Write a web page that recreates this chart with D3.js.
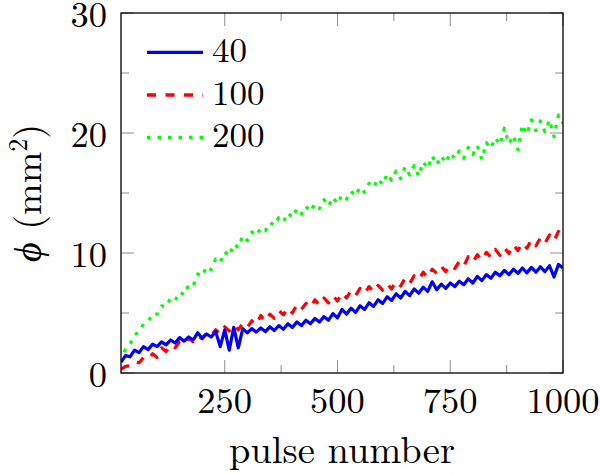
<!DOCTYPE html>
<html>
<head>
<meta charset="utf-8">
<script src="https://cdn.jsdelivr.net/npm/d3@7"></script>
<style>
  html, body { margin: 0; padding: 0; background: #fff; }
  svg { display: block; }
</style>
</head>
<body>
<svg id="chart" width="600" height="475"></svg>
<script>
// ---- data ----
const pulses = [20,30,40,50,60,70,80,90,100,110,120,130,140,150,160,170,180,190,200,210,220,230,240,250,260,270,280,290,300,310,320,330,340,350,360,370,380,390,400,410,420,430,440,450,460,470,480,490,500,510,520,530,540,550,560,570,580,590,600,610,620,630,640,650,660,670,680,690,700,710,720,730,740,750,760,770,780,790,800,810,820,830,840,850,860,870,880,890,900,910,920,930,940,950,960,970,980,990,1000];

const series40 = [0.9,1.45,1.35,1.9,1.7,2.2,1.95,2.4,2.2,2.6,2.35,2.75,2.5,2.95,2.65,3.0,2.75,3.35,2.9,3.25,3.0,3.45,2.2,3.6,1.9,3.8,2.1,3.7,3.35,3.7,3.4,3.75,3.45,3.85,3.55,3.95,3.65,4.1,3.8,4.25,3.95,4.4,4.1,4.55,4.25,4.7,4.4,4.95,4.6,5.3,4.9,5.4,5.05,5.6,5.3,5.85,5.55,6.1,5.8,6.35,6.05,6.6,6.25,6.8,6.45,7.0,6.65,7.15,6.8,7.6,6.95,7.4,7.05,7.5,7.2,7.65,7.35,7.85,7.5,8.05,7.7,8.2,7.9,8.4,8.1,8.55,8.2,8.65,8.3,8.75,8.35,8.8,8.4,8.85,8.45,8.95,8.0,9.05,8.75];

const series100 = [0.3,0.55,0.6,0.95,0.85,1.3,1.15,1.6,1.3,2.1,1.8,2.35,2.1,2.6,2.4,2.9,2.6,3.1,2.85,3.35,3.1,3.6,3.25,3.85,3.5,4.0,3.6,4.15,3.8,4.35,4.0,4.8,4.3,4.9,4.55,5.2,4.85,5.45,5.0,5.7,5.3,5.8,5.45,6.1,5.65,6.25,5.85,6.45,6.0,6.7,6.25,6.85,6.45,7.05,6.6,7.2,6.75,7.3,6.9,7.45,7.0,7.65,7.25,7.9,7.45,8.1,7.75,8.4,7.95,8.65,8.3,8.9,8.45,9.0,8.7,9.3,8.9,9.7,9.25,9.85,9.4,10.05,9.65,10.3,9.8,10.45,9.95,10.7,10.2,10.85,10.4,11.1,10.6,11.25,10.8,11.5,11.0,11.8,11.3];

const series200 = [0.9,2.0,2.4,3.2,3.4,4.1,4.25,4.95,4.9,5.6,5.5,6.25,6.05,6.75,6.5,7.35,7.25,8.25,8.05,8.9,8.6,9.5,9.2,10.1,9.75,10.75,10.45,11.45,11.05,11.75,11.45,12.1,11.85,12.55,12.3,12.95,12.6,13.35,12.95,13.7,13.25,13.9,13.45,14.1,13.7,14.45,13.9,14.65,14.1,14.85,14.5,15.15,14.75,15.5,15.05,15.8,15.45,16.2,15.7,16.6,16.05,16.85,16.2,17.2,16.5,17.3,16.4,17.6,17.05,18.1,17.35,18.1,17.5,18.35,17.85,18.5,17.9,18.8,18.2,18.95,17.8,19.2,18.7,19.6,19.0,20.4,19.1,19.8,18.6,20.7,19.9,21.1,20.2,21.0,20.1,21.1,19.7,21.5,20.8];

const seriesNames = ["40", "100", "200"];
const seriesColors = ["#0000ff", "#ff0000", "#00ff00"];
const seriesDash = [null, "9,9.5", "3.5,7"];

const xTickValues = [250, 375, 500, 625, 750, 875, 1000];
const xTickLabels = [250, 500, 750, 1000];
const yTickValues = [0, 5, 10, 15, 20, 25, 30];
const yTickLabels = [0, 10, 20, 30];

// ---- layout ----
const FONT = "Latin Modern Roman";
const svg = d3.select("#chart");
const L = 121, R = 563, T = 13, B = 373;
const x = d3.scaleLinear().domain([20, 1000]).range([L, R]);
const y = d3.scaleLinear().domain([0, 30]).range([B, T]);

svg.append("defs").append("clipPath").attr("id", "clip")
  .append("rect").attr("x", L).attr("y", T).attr("width", R - L).attr("height", B - T);

// ticks (inside, all four sides)
const tickColor = "#8c8c8c";
const gT = svg.append("g").attr("stroke", tickColor).attr("stroke-width", 1);
xTickValues.forEach(v => {
  const len = xTickLabels.includes(v) ? 13 : 8;
  const px = x(v);
  gT.append("line").attr("x1", px).attr("x2", px).attr("y1", B).attr("y2", B - len);
  gT.append("line").attr("x1", px).attr("x2", px).attr("y1", T).attr("y2", T + len);
});
yTickValues.forEach(v => {
  const len = yTickLabels.includes(v) ? 13 : 8;
  const py = y(v);
  gT.append("line").attr("x1", L).attr("x2", L + len).attr("y1", py).attr("y2", py);
  gT.append("line").attr("x1", R).attr("x2", R - len).attr("y1", py).attr("y2", py);
});

// lines
const lineGen = (vals) => d3.line().x((d, i) => x(pulses[i])).y(d => y(d))(vals);
const allSeries = [series40, series100, series200];
const gL = svg.append("g").attr("clip-path", "url(#clip)");
[2, 1, 0].forEach(k => {
  gL.append("path")
    .attr("d", lineGen(allSeries[k]))
    .attr("fill", "none")
    .attr("stroke", seriesColors[k])
    .attr("stroke-width", k === 0 ? 3.2 : 3.2)
    .attr("stroke-linejoin", "round")
    .attr("stroke-dasharray", seriesDash[k]);
});

// frame
svg.append("rect").attr("x", L).attr("y", T).attr("width", R - L).attr("height", B - T)
  .attr("fill", "none").attr("stroke", "#000").attr("stroke-width", 1.3);

// tick labels
xTickLabels.forEach(v => {
  svg.append("text").attr("x", x(v)).attr("y", B + 40).attr("font-family", FONT)
    .attr("text-anchor", "middle").attr("font-size", 36.5).text(v);
});
yTickLabels.forEach(v => {
  svg.append("text").attr("x", L - 14).attr("y", y(v) + 13.5).attr("font-family", FONT)
    .attr("text-anchor", "end").attr("font-size", 36.5).text(v);
});

// axis labels
svg.append("text").attr("x", (L + R) / 2).attr("y", 463).attr("font-family", FONT)
  .attr("text-anchor", "middle").attr("font-size", 38.5)
  .text("pulse number");

const yl = svg.append("text").attr("font-family", FONT)
  .attr("transform", `translate(41, ${(T + B) / 2}) rotate(-90)`)
  .attr("text-anchor", "middle").attr("font-size", 38);
yl.append("tspan").attr("font-style", "italic").text("ϕ");
yl.append("tspan").text(" (mm");
yl.append("tspan").attr("font-size", 26).attr("dy", -14).text("2");
yl.append("tspan").attr("dy", 14).text(")");

// legend
const legY = [52.3, 95, 137.3];
seriesNames.forEach((name, k) => {
  svg.append("line").attr("x1", 147).attr("x2", 203).attr("y1", legY[k]).attr("y2", legY[k])
    .attr("stroke", seriesColors[k]).attr("stroke-width", 3.3)
    .attr("stroke-dasharray", seriesDash[k]);
  svg.append("text").attr("x", 212).attr("y", legY[k] + 9.5).attr("font-family", FONT)
    .attr("font-size", 35).text(name);
});
</script>
</body>
</html>
